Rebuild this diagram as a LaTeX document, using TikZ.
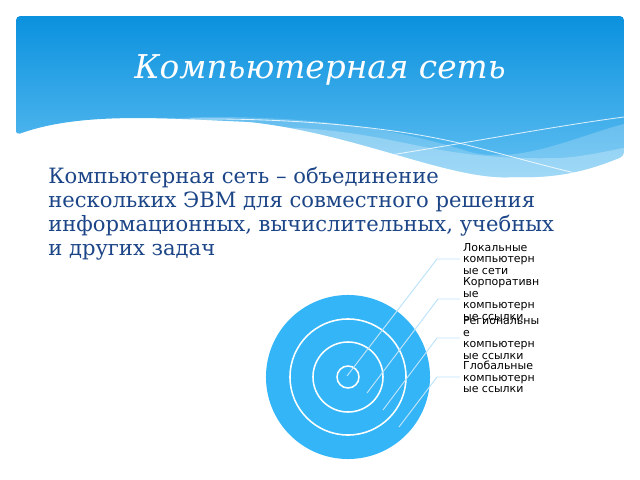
\documentclass[tikz,border=0pt]{standalone}
\usepackage{fontspec}
\setmainfont{DejaVu Serif}
\newfontfamily\labelfont{DejaVu Sans}
\usepackage{tikz}
\usetikzlibrary{positioning}
\definecolor{headtop}{HTML}{0B91DE}
\definecolor{headbottom}{HTML}{62C0F2}
\definecolor{bodyblue}{HTML}{1C4587}
\definecolor{targetblue}{HTML}{33B5F7}
\definecolor{linkblue}{HTML}{BDE3FB}

\begin{document}
\begin{tikzpicture}[x=0.025cm, y=-0.025cm,
  title/.style    = {text=white, font=\fontsize{23.3}{28}\selectfont\itshape},
  body/.style     = {text=bodyblue, align=left, inner sep=0pt,
    font=\fontsize{15}{17}\selectfont},
  target/.style   = {circle, fill=targetblue, inner sep=0pt},
  ring/.style     = {circle, draw=white, line width=1.1pt, inner sep=0pt},
  link/.style     = {draw=linkblue, line width=0.7pt},
  netlabel/.style = {anchor=west, align=left, inner xsep=2pt, inner ysep=0pt,
    font=\labelfont\fontsize{7.8}{8.2}\selectfont},
  ]
  \useasboundingbox (0,0) rectangle (640,480);
  \begin{scope}
    \clip[rounded corners=3pt] (16,135) -- (16,16) -- (624,16) -- (624,156)
      .. controls (590,170) and (560,178) .. (515,177)
      .. controls (450,180) and (360,135) .. (250,122)
      .. controls (160,118) and (80,112) .. (16,135) -- cycle;
    \shade[top color=headtop, bottom color=headbottom] (16,16) rectangle (624,180);
    \fill[white, opacity=0.2] (60,150) .. controls (110,125) and (150,117) .. (220,117)
      .. controls (330,118) and (400,130) .. (470,152)
      .. controls (520,165) and (580,135) .. (624,124)
      -- (640,124) -- (640,200) -- (60,200) -- cycle;
    \fill[white, opacity=0.25] (180,150) .. controls (220,122) and (300,122) .. (390,140)
      .. controls (440,150) and (480,160) .. (560,158)
      .. controls (590,156) and (610,150) .. (640,145)
      -- (640,200) -- (180,200) -- cycle;
    \draw[white, opacity=0.8, line width=0.6pt] (190,119)
      .. controls (300,118) and (400,128) .. (467,145)
      .. controls (510,156) and (545,166) .. (575,173);
    \draw[white, opacity=0.8, line width=0.6pt] (330,164)
      .. controls (420,152) and (540,128) .. (624,117);
  \end{scope}

  \node[title] (title) at (320,70) {Компьютерная сеть};
  \node[body, anchor=north west] (body) at (48,167)
    {Компьютерная сеть – объединение\\
     нескольких ЭВМ для совместного решения\\
     информационных, вычислительных, учебных\\
     и других задач};

  \node[target, minimum size=4.1cm] (outer) at (348,377) {};
  \node[ring, minimum size=2.9cm] (ring3) at (outer.center) {};
  \node[ring, minimum size=1.75cm] (ring2) at (outer.center) {};
  \node[ring, minimum size=0.55cm] (ring1) at (outer.center) {};

  \node[netlabel] (local) at (460,259) {Локальные\\компьютерн\\ые сети};
  \node[netlabel] (corporate) at (460,299) {Корпоративн\\ые\\компьютерн\\ые ссылки};
  \node[netlabel] (regional) at (460,338) {Региональны\\е\\компьютерн\\ые ссылки};
  \node[netlabel] (global) at (460,377) {Глобальные\\компьютерн\\ые ссылки};

  \coordinate (p1) at (347,376);
  \coordinate (p2) at (367,393);
  \coordinate (p3) at (383,410);
  \coordinate (p4) at (399,427);
  \coordinate (e1) at (437,259);
  \coordinate (e2) at (438,299);
  \coordinate (e3) at (437,338);
  \coordinate (e4) at (437,377);

  \draw[link] (p1) -- (e1) -- (local.west);
  \draw[link] (p2) -- (e2) -- (corporate.west);
  \draw[link] (p3) -- (e3) -- (regional.west);
  \draw[link] (p4) -- (e4) -- (global.west);
\end{tikzpicture}
\end{document}
